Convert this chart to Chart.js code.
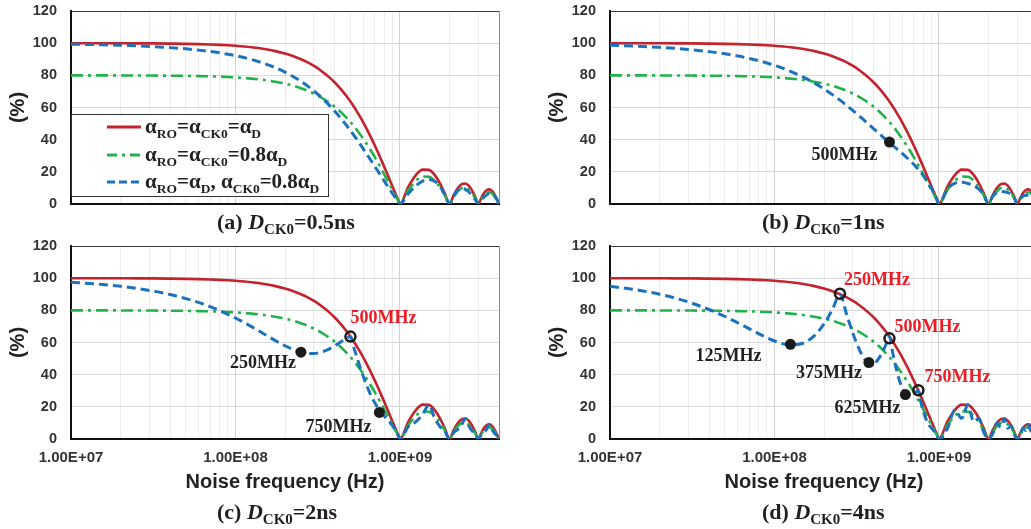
<!DOCTYPE html>
<html>
<head>
<meta charset="utf-8">
<script src="https://cdn.jsdelivr.net/npm/chart.js@4/dist/chart.umd.min.js"></script>
<style>
html,body{margin:0;padding:0;background:#fff;}
#wrap{position:relative;width:1031px;height:529px;overflow:hidden;background:#fff;}
canvas{position:absolute;}
.cap{position:absolute;font-family:"Liberation Serif","Times New Roman",serif;font-weight:bold;font-size:22px;color:#231f20;white-space:nowrap;line-height:26px;}
.cap i{font-style:italic;}
.csub{font-size:15px;position:relative;top:5px;}
#legend{position:absolute;left:71px;top:114px;width:258px;height:83px;box-sizing:border-box;border:1.5px solid #333;background:#fff;}
.lrow{position:absolute;left:35px;height:26px;display:flex;align-items:center;white-space:nowrap;}
.lrow svg{flex:none;margin-right:4px;}
.ltxt{font-family:"Liberation Serif","Times New Roman",serif;font-weight:bold;font-size:21px;color:#231f20;line-height:26px;}
.lsub{font-size:13.5px;position:relative;top:5px;}
</style>
</head>
<body>
<div id="wrap">
  <canvas id="cA" width="510" height="235" style="left:0;top:0;width:510px;height:235px"></canvas>
  <canvas id="cB" width="510" height="235" style="left:539px;top:0;width:510px;height:235px"></canvas>
  <canvas id="cC" width="510" height="294" style="left:0;top:235px;width:510px;height:294px"></canvas>
  <canvas id="cD" width="510" height="294" style="left:539px;top:235px;width:510px;height:294px"></canvas>

  <div id="legend">
    <div class="lrow" style="top:-1px">
      <svg width="34" height="8"><line x1="0" y1="4" x2="34" y2="4" stroke="#c4222c" stroke-width="3"/></svg>
      <span class="ltxt">α<span class="lsub">RO</span>=α<span class="lsub">CK0</span>=α<span class="lsub">D</span></span>
    </div>
    <div class="lrow" style="top:27px">
      <svg width="34" height="8"><line x1="0" y1="4" x2="34" y2="4" stroke="#22b24c" stroke-width="3" stroke-dasharray="10 5 3 5"/></svg>
      <span class="ltxt">α<span class="lsub">RO</span>=α<span class="lsub">CK0</span>=0.8α<span class="lsub">D</span></span>
    </div>
    <div class="lrow" style="top:54px">
      <svg width="34" height="8"><line x1="0" y1="4" x2="34" y2="4" stroke="#1c72bd" stroke-width="3" stroke-dasharray="8 4"/></svg>
      <span class="ltxt">α<span class="lsub">RO</span>=α<span class="lsub">D</span>, α<span class="lsub">CK0</span>=0.8α<span class="lsub">D</span></span>
    </div>
  </div>

  <div class="cap" style="left:217px;top:209px">(a) <i>D</i><span class="csub">CK0</span>=0.5ns</div>
  <div class="cap" style="left:762px;top:209px">(b) <i>D</i><span class="csub">CK0</span>=1ns</div>
  <div class="cap" style="left:217px;top:499px">(c) <i>D</i><span class="csub">CK0</span>=2ns</div>
  <div class="cap" style="left:762px;top:499px">(d) <i>D</i><span class="csub">CK0</span>=4ns</div>
</div>
<script>
// ---------------- data ----------------
const freqMHz = [10,15,20,25,30,40,50,60,70,80,90,100,
  125,150,175,200,225,250,275,300,325,350,375,400,425,450,475,500,525,550,575,600,625,650,675,700,725,750,775,800,825,850,875,900,925,950,975,1000,
  1125,1250,1375,1500,1625,1750,1875,2000,2125,2250,2375,2500,2625,2750,2875,3000,3125,3250,3375,3500,3625,3750,3875,4000];

const redPct = [99.98,99.96,99.93,99.90,99.85,99.74,99.59,99.41,99.20,98.95,98.67,98.36,
  97.45,96.34,95.04,93.55,91.88,90.03,88.02,85.84,83.51,81.03,78.42,75.68,72.83,69.86,66.81,63.66,60.44,57.16,53.83,50.45,47.05,43.63,40.21,36.79,33.39,30.01,26.67,23.39,20.16,17.00,13.92,10.93,8.03,5.24,2.56,0,
  10.83,18.01,21.39,21.22,18.10,12.86,6.50,0,5.73,10.00,12.38,12.73,11.20,8.18,4.24,0,3.90,6.93,8.71,9.09,8.11,6.00,3.14,0];

const greenPct = [79.98,79.97,79.94,79.92,79.88,79.79,79.67,79.53,79.36,79.16,78.94,78.69,
  77.96,77.07,76.03,74.84,73.50,72.02,70.41,68.67,66.81,64.82,62.74,60.54,58.26,55.89,53.45,50.93,48.35,45.73,43.06,40.36,37.64,34.90,32.17,29.43,26.71,24.01,21.34,18.71,16.13,13.60,11.14,8.74,6.42,4.19,2.05,0,
  8.66,14.41,17.11,16.98,14.48,10.29,5.20,0,4.58,8.00,9.90,10.18,8.96,6.54,3.39,0,3.12,5.54,6.97,7.27,6.49,4.80,2.51,0];

const bluePctA = [99.35,99.02,98.67,98.33,97.97,97.23,96.46,95.67,94.85,93.99,93.11,92.21,
  89.85,87.34,84.72,81.99,79.16,76.25,73.28,70.25,67.19,64.10,60.99,57.89,54.79,51.71,48.67,45.65,42.69,39.77,36.92,34.12,31.40,28.75,26.18,23.68,21.26,18.92,16.66,14.49,12.40,10.39,8.46,6.61,4.84,3.15,1.54,0,
  6.58,11.35,14.28,15.22,14.08,10.89,5.99,0,5.28,8.47,9.63,9.13,7.48,5.16,2.58,0,2.37,4.37,5.81,6.52,6.31,5.08,2.89,0];

const bluePctB = [98.72,98.08,97.42,96.77,96.09,94.74,93.36,91.96,90.54,89.11,87.66,86.20,
  82.53,78.84,75.18,71.55,68.01,64.57,61.25,58.06,55.03,52.15,49.44,46.89,44.50,42.26,40.17,38.20,36.34,34.58,32.89,31.26,29.66,28.08,26.50,24.88,23.23,21.52,19.74,17.89,15.95,13.91,11.79,9.58,7.28,4.91,2.48,0,
  9.17,12.92,13.49,12.73,11.41,9.22,5.51,0,4.85,7.17,7.80,7.64,7.06,5.87,3.59,0,3.30,4.97,5.49,5.45,5.11,4.30,2.66,0];

const bluePctC = [97.47,96.20,94.92,93.65,92.37,89.82,87.28,84.77,82.31,79.88,77.52,75.23,
  69.89,65.16,61.17,57.96,55.58,54.02,53.24,53.19,53.75,54.81,56.24,57.89,59.60,61.22,62.63,63.66,56.66,50.09,44.05,38.59,33.74,29.51,25.88,22.79,20.20,18.01,16.13,14.49,12.97,11.50,9.98,8.36,6.57,4.59,2.40,0,
  7.77,10.81,15.34,21.22,12.98,7.72,4.66,0,4.11,6.00,8.88,12.73,8.03,4.91,3.04,0,2.80,4.16,6.25,9.09,5.82,3.60,2.25,0];

const bluePctD = [94.97,92.47,89.99,87.55,85.15,80.52,76.17,72.19,68.63,65.53,62.96,60.94,
  58.47,59.69,64.28,71.55,80.52,90.03,77.14,65.66,56.49,50.20,47.05,46.89,49.26,53.43,58.55,63.66,52.97,43.72,36.41,31.26,28.23,27.03,27.20,28.14,29.26,30.01,23.37,17.89,13.64,10.53,8.35,6.77,5.43,4.01,2.24,0,
  6.50,18.01,12.83,21.22,10.86,12.86,3.90,0,3.44,10.00,7.43,12.73,6.72,8.18,2.54,0,2.34,6.93,5.23,9.09,4.87,6.00,1.88,0];

// marked points
const bDotsMHz = [500];            const bDotsPct = [38.5];            const bDotsText = ['500MHz'];
const cDotsMHz = [250, 750];       const cDotsPct = [54.0, 16.5];      const cDotsText = ['250MHz', '750MHz'];
const cRingsMHz = [500];           const cRingsPct = [63.7];           const cRingsText = ['500MHz'];
const dDotsMHz = [125, 375, 625];  const dDotsPct = [58.9, 47.5, 27.6]; const dDotsText = ['125MHz', '375MHz', '625MHz'];
const dRingsMHz = [250, 500, 750]; const dRingsPct = [90.3, 62.6, 30.3]; const dRingsText = ['250MHz', '500MHz', '750MHz'];

// axes
const xTickValues = [1e7,2e7,3e7,4e7,5e7,6e7,7e7,8e7,9e7,1e8,2e8,3e8,4e8,5e8,6e8,7e8,8e8,9e8,1e9,2e9,3e9,4e9];
const xLabelValues = [1e7, 1e8, 1e9];
const xLabelTexts = ['1.00E+07', '1.00E+08', '1.00E+09'];
const yTickValues = [0, 20, 40, 60, 80, 100, 120];
const xTitle = 'Noise frequency (Hz)';
const yTitle = '(%)';

// ---------------- styles ----------------
const SANS = '"Liberation Sans", Arial, sans-serif';
const SERIF = '"Liberation Serif", "Times New Roman", serif';
const COL_RED = '#c4222c', COL_GREEN = '#22b24c', COL_BLUE = '#1c72bd';
const COL_LABEL_RED = '#ee1c25', COL_LABEL_DARK = '#231f20';
const labelOffsets = {
  bDots: [[-45, 13]],
  cDots: [[-38, 11], [-41, 15]],
  cRings: [[33, -18]],
  dDots: [[-62, 12], [-40, 11], [-38, 14]],
  dRings: [[37, -13], [38, -11], [39, -13]]
};

function pts(xs, ys) { return xs.map((f, i) => ({ x: f * 1e6, y: ys[i] })); }

function curve(ys, color, width, dash, order) {
  return { type: 'line', data: pts(freqMHz, ys), borderColor: color, borderWidth: width,
    borderDash: dash, pointRadius: 0, pointHoverRadius: 0, fill: false,
    cubicInterpolationMode: 'monotone', order: order, borderCapStyle: 'butt' };
}

function markers(group) {
  return { type: 'line', data: pts(group.mhz, group.pct), showLine: false, order: 0,
    pointRadius: group.filled ? 5.5 : 5, pointHoverRadius: 0,
    pointBorderWidth: group.filled ? 0 : 2.5,
    pointBackgroundColor: group.filled ? '#1a1a1a' : 'rgba(255,255,255,0)',
    pointBorderColor: '#1a1a1a' };
}

const annotStore = {};
const annotPlugin = {
  id: 'annotText',
  afterDatasetsDraw(chart) {
    const groups = annotStore[chart.canvas.id] || [];
    const ctx = chart.ctx, xs = chart.scales.x, ys = chart.scales.y;
    ctx.save();
    ctx.font = 'bold 18px ' + SERIF;
    ctx.textAlign = 'center';
    ctx.textBaseline = 'middle';
    groups.forEach(g => {
      g.mhz.forEach((f, i) => {
        const px = xs.getPixelForValue(f * 1e6) + g.off[i][0];
        const py = ys.getPixelForValue(g.pct[i]) + g.off[i][1];
        ctx.fillStyle = g.color;
        ctx.fillText(g.text[i], px, py);
      });
    });
    ctx.restore();
  }
};

function zeroPad(s) { s.paddingTop = 0; s.paddingBottom = 0; s.paddingLeft = 0; s.paddingRight = 0; }

function build(id, blue, showX, xHeight, groups) {
  annotStore[id] = groups;
  const datasets = [];
  groups.forEach(g => datasets.push(markers(g)));
  datasets.push(curve(blue, COL_BLUE, 3, [9, 5], 1));
  datasets.push(curve(greenPct, COL_GREEN, 2.6, [12, 5, 3, 5], 2));
  datasets.push(curve(redPct, COL_RED, 2.6, [], 3));
  new Chart(document.getElementById(id), {
    data: { datasets },
    plugins: [annotPlugin],
    options: {
      responsive: false, animation: false, devicePixelRatio: 1,
      layout: { autoPadding: false, padding: { top: 11, right: 11, left: 0, bottom: 0 } },
      plugins: { legend: { display: false }, tooltip: { enabled: false } },
      events: [],
      scales: {
        x: {
          type: 'logarithmic', min: 1e7, max: 4e9,
          afterBuildTicks: s => { s.ticks = xTickValues.map(v => ({ value: v })); },
          afterFit: s => { s.height = xHeight; zeroPad(s); },
          ticks: {
            display: showX, autoSkip: false, maxRotation: 0, minRotation: 0, padding: 10,
            color: '#333', font: { family: SANS, size: 15, weight: 'bold' },
            callback: v => { const k = xLabelValues.indexOf(v); return k >= 0 ? xLabelTexts[k] : ''; }
          },
          grid: {
            drawTicks: false, lineWidth: 1,
            color: c => {
              const v = c.tick ? c.tick.value : 0;
              if (v === 4e9) return '#8c8c8c';
              if (v === 1e8 || v === 1e9) return '#d2d2d2';
              return '#ececec';
            }
          },
          border: { display: true, color: '#111', width: 2 },
          title: { display: showX, text: xTitle, color: '#222',
            font: { family: SANS, size: 20, weight: 'bold' }, padding: { top: 0, bottom: 35 } }
        },
        y: {
          type: 'linear', min: 0, max: 120,
          afterBuildTicks: s => { s.ticks = yTickValues.map(v => ({ value: v })); },
          afterFit: s => { s.width = 71; zeroPad(s); },
          ticks: { padding: 14, color: '#333', font: { family: SANS, size: 14.5, weight: 'bold' } },
          grid: { drawTicks: false, lineWidth: 1,
            color: c => (c.tick && c.tick.value === 120) ? '#3c3c3c' : '#d9d9d9' },
          border: { display: true, color: '#111', width: 2 },
          title: { display: true, text: yTitle, color: '#222',
            font: { family: SANS, size: 20, weight: 'bold' }, padding: { top: 6, bottom: 0 } }
        }
      }
    }
  });
}

build('cA', bluePctA, false, 31, []);
build('cB', bluePctB, false, 31, [
  { mhz: bDotsMHz, pct: bDotsPct, text: bDotsText, off: labelOffsets.bDots, color: COL_LABEL_DARK, filled: true }
]);
build('cC', bluePctC, true, 90, [
  { mhz: cDotsMHz, pct: cDotsPct, text: cDotsText, off: labelOffsets.cDots, color: COL_LABEL_DARK, filled: true },
  { mhz: cRingsMHz, pct: cRingsPct, text: cRingsText, off: labelOffsets.cRings, color: COL_LABEL_RED, filled: false }
]);
build('cD', bluePctD, true, 90, [
  { mhz: dDotsMHz, pct: dDotsPct, text: dDotsText, off: labelOffsets.dDots, color: COL_LABEL_DARK, filled: true },
  { mhz: dRingsMHz, pct: dRingsPct, text: dRingsText, off: labelOffsets.dRings, color: COL_LABEL_RED, filled: false }
]);
</script>
</body>
</html>
